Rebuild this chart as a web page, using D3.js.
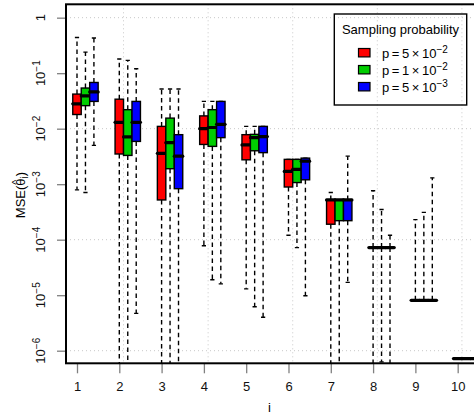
<!DOCTYPE html>
<html>
<head>
<meta charset="utf-8">
<script src="https://cdn.jsdelivr.net/npm/d3@7"></script>
<style>
  body { margin: 0; background: #fff; }
  svg { font-family: "Liberation Sans", Arial, sans-serif; }
</style>
</head>
<body>
<div id="chart"></div>
<script>
// i = 1..10, one box per sampling probability
var positions = [1, 2, 3, 4, 5, 6, 7, 8, 9, 10];
var seriesNames = ["5e-2", "1e-2", "5e-3"];
var seriesColors = ["#ff0000", "#00cd00", "#0000ff"];
var legendMantissa = ["5", "1", "5"];
var legendExponent = ["\u22122", "\u22122", "\u22123"];

// [lower whisker, Q1, median, Q3, upper whisker]
var boxes_p5e2 = [
  [7.9e-4, 1.8e-2, 2.8e-2, 4.2e-2, 4.4e-1],
  [1e-7, 3.5e-3, 1.3e-2, 3.4e-2, 1.8e-1],
  [1e-7, 5.2e-4, 3.6e-3, 1.1e-2, 5.2e-2],
  [7.8e-5, 5.2e-3, 1.0e-2, 1.7e-2, 3.1e-2],
  [1.3e-5, 2.75e-3, 5.1e-3, 7.8e-3, 1.1e-2],
  [1.2e-4, 8.9e-4, 1.7e-3, 2.8e-3, 2.8e-3],
  [1e-7, 1.9e-4, 5.2e-4, 5.2e-4, 7.1e-4],
  [1e-7, 7.2e-5, 7.2e-5, 7.2e-5, 7.6e-4],
  [8.1e-6, 8.1e-6, 8.1e-6, 8.1e-6, 2.3e-4],
  [7.2e-7, 7.2e-7, 7.2e-7, 7.2e-7, 7.2e-7]
];
var boxes_p1e2 = [
  [7.1e-4, 2.6e-2, 3.9e-2, 5.4e-2, 2.4e-1],
  [1e-7, 3.3e-3, 7.1e-3, 2.2e-2, 1.7e-1],
  [1e-7, 1.9e-3, 5.6e-3, 1.55e-2, 5.2e-2],
  [1.9e-5, 4.8e-3, 1.05e-2, 2.2e-2, 3.1e-2],
  [6.2e-6, 4.0e-3, 6.9e-3, 7.9e-3, 1.1e-2],
  [7.2e-5, 1.07e-3, 1.85e-3, 2.8e-3, 2.8e-3],
  [1e-7, 2.2e-4, 5.2e-4, 5.2e-4, 5.2e-4],
  [6.3e-7, 7.2e-5, 7.2e-5, 7.2e-5, 3.5e-4],
  [8.1e-6, 8.1e-6, 8.1e-6, 8.1e-6, 3.1e-4],
  [7.2e-7, 7.2e-7, 7.2e-7, 7.2e-7, 7.2e-7]
];
var boxes_p5e3 = [
  [5.0e-3, 3.1e-2, 4.6e-2, 6.8e-2, 4.3e-1],
  [4.7e-6, 5.9e-3, 1.3e-2, 3.1e-2, 1.2e-1],
  [1e-7, 8.3e-4, 3.2e-3, 7.8e-3, 5.2e-2],
  [1.6e-5, 6.9e-3, 1.2e-2, 3.1e-2, 3.1e-2],
  [4.0e-6, 3.7e-3, 7.2e-3, 1.1e-2, 1.1e-2],
  [9.8e-6, 1.2e-3, 2.6e-3, 2.95e-3, 2.95e-3],
  [1.7e-5, 2.2e-4, 5.2e-4, 5.2e-4, 3.2e-3],
  [1e-7, 7.2e-5, 7.2e-5, 7.2e-5, 1.2e-4],
  [8.1e-6, 8.1e-6, 8.1e-6, 8.1e-6, 1.3e-3],
  [7.2e-7, 7.2e-7, 7.2e-7, 7.2e-7, 7.2e-7]
];
var allBoxes = [boxes_p5e2, boxes_p1e2, boxes_p5e3];

var xTicks = [1, 2, 3, 4, 5, 6, 7, 8, 9, 10];
var xGrid = [2.1, 4.1, 6.1, 8.1, 10.1];
var yTickExp = [0, -1, -2, -3, -4, -5, -6];
var yGridExp = [0, -2, -4, -6];

var width = 474, height = 418;
var plot = {left: 66, top: 4.3, right: 485.6, bottom: 363.3};
var offset = 0.2, boxW = 0.2;

var svg = d3.select("#chart").append("svg")
  .attr("width", width).attr("height", height);

var x = d3.scaleLinear().domain([0.74, 10.66]).range([plot.left, plot.right]);
var y = d3.scaleLog().domain([Math.pow(10, -6.227), Math.pow(10, 0.241)]).range([plot.bottom, plot.top]);

svg.append("defs").append("clipPath").attr("id", "clip")
  .append("rect")
  .attr("x", plot.left).attr("y", plot.top)
  .attr("width", plot.right - plot.left).attr("height", plot.bottom - plot.top);

// grid
var grid = svg.append("g").attr("clip-path", "url(#clip)")
  .style("stroke", "#c8c8c8").style("stroke-dasharray", "1,3").style("stroke-width", 1);
grid.selectAll(".gx").data(xGrid).enter().append("line")
  .attr("x1", d => x(d)).attr("x2", d => x(d))
  .attr("y1", plot.top).attr("y2", plot.bottom);
grid.selectAll(".gy").data(yGridExp).enter().append("line")
  .attr("x1", plot.left).attr("x2", plot.right)
  .attr("y1", d => y(Math.pow(10, d))).attr("y2", d => y(Math.pow(10, d)));

// boxes
var marks = svg.append("g").attr("clip-path", "url(#clip)");
allBoxes.forEach(function(series, s) {
  var g = marks.append("g").attr("class", "series-" + seriesNames[s]);
  series.forEach(function(b, k) {
    var cx = positions[k] + s * offset;
    var x0 = x(cx - boxW / 2), x1 = x(cx + boxW / 2), xc = x(cx);
    var capHalf = (x1 - x0) / 4;
    // whiskers
    g.append("line").attr("x1", xc).attr("x2", xc)
      .attr("y1", y(b[3])).attr("y2", y(b[4]))
      .attr("stroke", "#000").attr("stroke-width", 1.4).attr("stroke-dasharray", "4.5,3.5");
    g.append("line").attr("x1", xc).attr("x2", xc)
      .attr("y1", y(b[1])).attr("y2", y(b[0]))
      .attr("stroke", "#000").attr("stroke-width", 1.4).attr("stroke-dasharray", "4.5,3.5");
    // staples
    [b[0], b[4]].forEach(function(v) {
      g.append("line").attr("x1", xc - capHalf).attr("x2", xc + capHalf)
        .attr("y1", y(v)).attr("y2", y(v))
        .attr("stroke", "#000").attr("stroke-width", 1.4);
    });
    g.append("rect")
      .attr("x", x0).attr("y", y(b[3]))
      .attr("width", x1 - x0).attr("height", y(b[1]) - y(b[3]))
      .attr("fill", seriesColors[s]).attr("stroke", "#000").attr("stroke-width", 1.4);
    g.append("line").attr("x1", x0).attr("x2", x1)
      .attr("y1", y(b[2])).attr("y2", y(b[2]))
      .attr("stroke", "#000").attr("stroke-width", 3.2).attr("stroke-linecap", "round");
  });
});

// axes
var yAxis = d3.axisLeft(y).tickValues(yTickExp.map(e => Math.pow(10, e))).tickSize(9).tickFormat("");
var ya = svg.append("g").attr("transform", "translate(" + plot.left + ",0)").call(yAxis);
ya.select(".domain").remove();
ya.selectAll(".tick line").attr("stroke", "#808080").attr("stroke-width", 1.3);

var xAxis = d3.axisBottom(x).tickValues(xTicks).tickSize(10).tickPadding(8);
var xa = svg.append("g").attr("transform", "translate(0," + plot.bottom + ")").call(xAxis);
xa.select(".domain").remove();
xa.selectAll(".tick line").attr("stroke", "#808080").attr("stroke-width", 1.3);
xa.selectAll(".tick text").attr("font-size", 13).attr("fill", "#111")
  .attr("font-family", "Liberation Sans, Arial, sans-serif");

// y tick labels, rotated, with superscript exponents
yTickExp.forEach(function(e) {
  var t = svg.append("text")
    .attr("transform", "translate(45," + y(Math.pow(10, e)) + ") rotate(-90)")
    .attr("text-anchor", "middle").attr("font-size", 13).attr("fill", "#111");
  if (e === 0) {
    t.text("1");
  } else {
    t.append("tspan").text("10");
    t.append("tspan").attr("dy", -5).attr("font-size", 10).text("\u2212" + Math.abs(e));
  }
});

// frame
svg.append("rect")
  .attr("x", plot.left).attr("y", plot.top)
  .attr("width", plot.right - plot.left).attr("height", plot.bottom - plot.top)
  .attr("fill", "none").attr("stroke", "#000").attr("stroke-width", 2);

// axis titles
svg.append("text").attr("x", x(5.55)).attr("y", 412)
  .attr("text-anchor", "middle").attr("font-size", 13).text("i");

// MSE(theta-hat_i): laid out left to right, then centred; hat placed over theta
var ylg = svg.append("g").attr("transform", "translate(25,195) rotate(-90)");
var yl = ylg.append("text").attr("font-size", 13);
var tPre = yl.append("tspan").text("MSE(");
var tTheta = yl.append("tspan").text("\u03b8");
yl.append("tspan").attr("dy", 3).attr("font-size", 10).text("i");
yl.append("tspan").attr("dy", -3).text(")");
var total = yl.node().getComputedTextLength();
var preW = tPre.node().getComputedTextLength();
var thW = tTheta.node().getComputedTextLength();
yl.attr("x", -total / 2);
ylg.append("text").attr("x", -total / 2 + preW + thW / 2).attr("y", -5)
  .attr("text-anchor", "middle").attr("font-size", 11).text("^");

// legend
var lg = svg.append("g");
lg.append("rect").attr("x", 334.3).attr("y", 14).attr("width", 132.4).attr("height", 91)
  .attr("fill", "none").attr("stroke", "#000").attr("stroke-width", 1.4);
lg.append("text").attr("x", 400.5).attr("y", 34).attr("text-anchor", "middle")
  .attr("font-size", 13).text("Sampling probability");
seriesNames.forEach(function(n, s) {
  var cy = 52.7 + s * 17;
  lg.append("rect").attr("x", 358.5).attr("y", cy - 4.2).attr("width", 11.5).attr("height", 8.4)
    .attr("fill", seriesColors[s]).attr("stroke", "#000").attr("stroke-width", 1.2);
  var t = lg.append("text").attr("x", 382).attr("y", cy + 4.8).attr("font-size", 13);
  t.append("tspan").text("p\u2009=\u2009" + legendMantissa[s] + "\u2009\u00d7\u200910");
  t.append("tspan").attr("dy", -5).attr("font-size", 10).text(legendExponent[s]);
});
</script>
</body>
</html>
